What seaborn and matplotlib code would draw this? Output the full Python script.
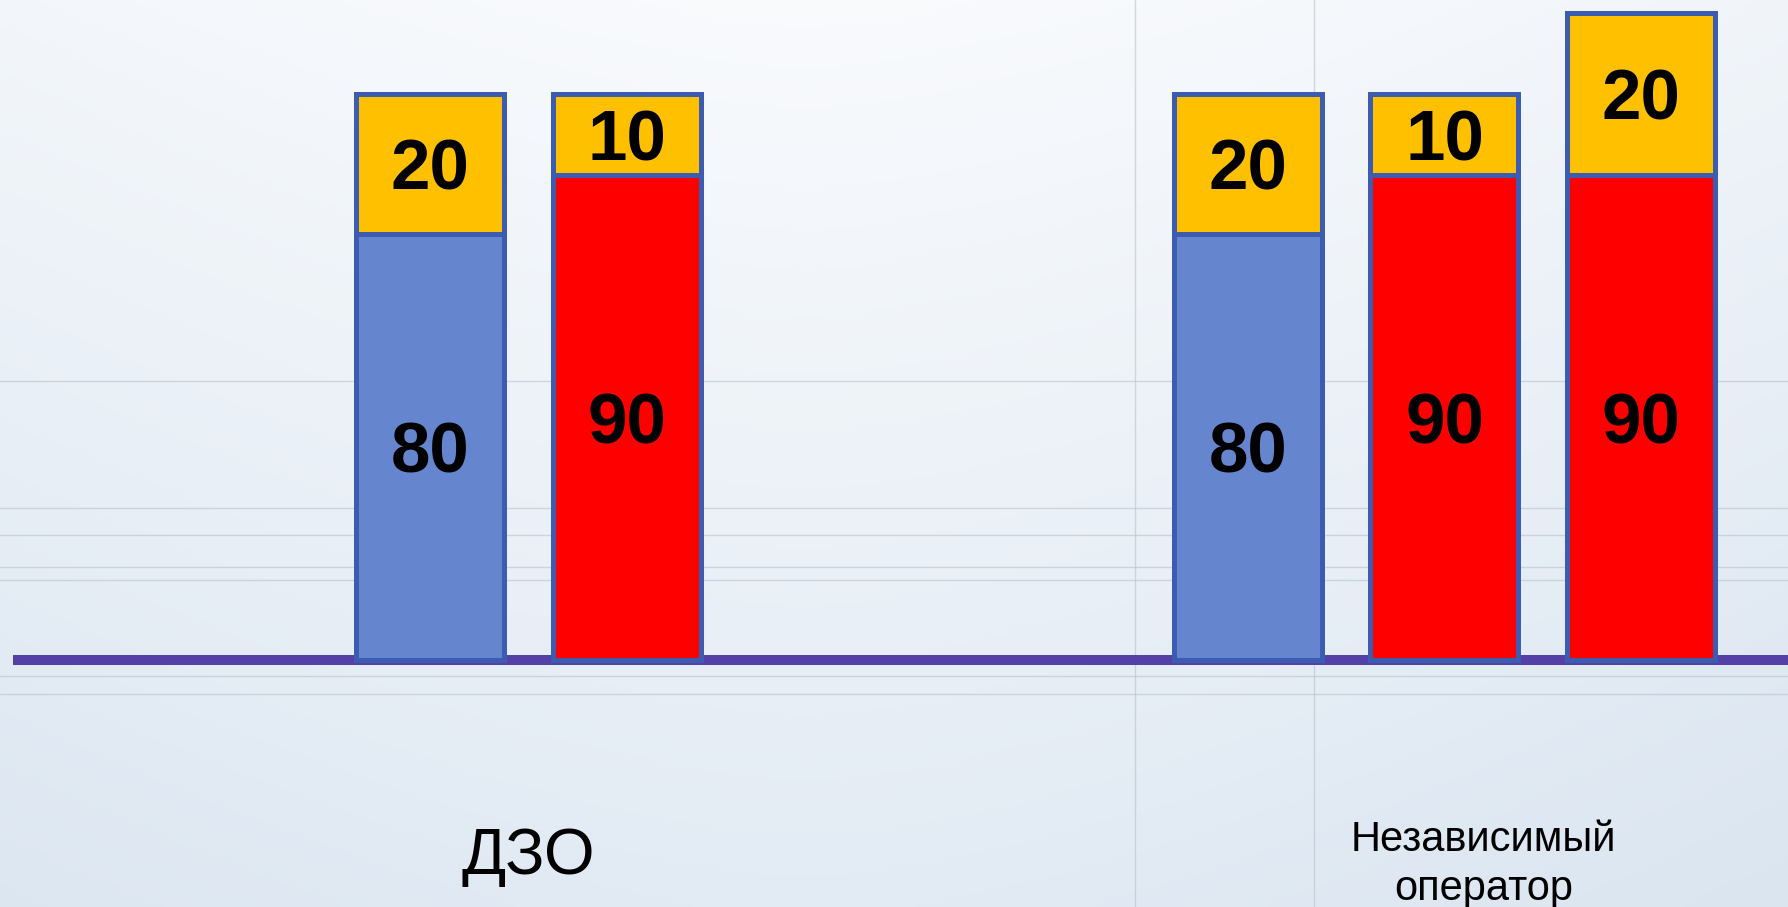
import numpy as np
import pandas as pd
import seaborn as sns
from matplotlib import pyplot as plt

# Data
group_names = ["ДЗО", "Независимый\nоператор"]
bar_group = ["ДЗО", "ДЗО", "Независимый\nоператор", "Независимый\nоператор",
             "Независимый\nоператор"]
bar_kind = ["blue", "red", "blue", "red", "red"]
lower_height = [79, 90, 79, 90, 90]
upper_height = [26, 15, 26, 15, 30]
lower_labels = ["80", "90", "80", "90", "90"]
upper_labels = ["20", "10", "20", "10", "20"]

# Layout (slot positions on the x axis)
bar_pos = [0, 1, 4.16, 5.16, 6.16]
group_label_pos = [0.5, 5.36]
group_label_y = [-36.5, -38.0]
group_label_size = [47, 30]

BLUE = "#6585CF"
RED = "#FF0000"
YELLOW = "#FFC000"
EDGE = "#3B5CB0"
PURPLE = "#5540A8"

sns.set_theme(style="white")
plt.rcParams["font.family"] = ["Liberation Sans", "DejaVu Sans"]

df = pd.DataFrame({
    "pos": bar_pos,
    "group": bar_group,
    "kind": bar_kind,
    "lower": lower_height,
    "upper": upper_height,
})
df["total"] = df["lower"] + df["upper"]

fig = plt.figure(figsize=(17.88, 9.07), dpi=100)

# soft bluish slide background with a few faint guide lines
bg = fig.add_axes([0, 0, 1, 1])
yy, xx = np.mgrid[0:1:200j, 0:1:400j]
t = np.clip(0.5 * yy + 0.45 * np.abs(xx - 0.45) ** 1.5, 0, 1)
light = np.array([0.975, 0.982, 0.992])
dark = np.array([0.80, 0.86, 0.92])
img = light * (1 - t[..., None]) + dark * t[..., None]
bg.imshow(img, aspect="auto", extent=(0, 1, 0, 1), origin="upper")
for hy in [0.58, 0.44, 0.41, 0.375, 0.36, 0.255, 0.235]:
    bg.axhline(hy, color="#B8C2CC", lw=1.0, alpha=0.6)
for vx in [0.635, 0.735]:
    bg.axvline(vx, color="#B8C2CC", lw=1.0, alpha=0.6)
bg.set_xlim(0, 1)
bg.set_ylim(0, 1)
bg.axis("off")

ax = fig.add_axes([0, 0, 1, 1])
ax.patch.set_alpha(0)

bar_kw = dict(native_scale=True, width=0.753, edgecolor=EDGE, linewidth=3.6,
              errorbar=None, zorder=3, ax=ax)
sns.barplot(data=df, x="pos", y="total", color=YELLOW, saturation=1, **bar_kw)
sns.barplot(data=df, x="pos", y="lower", hue="kind",
            palette={"blue": BLUE, "red": RED}, saturation=1, legend=False,
            **bar_kw)

ax.axhline(0, xmin=13 / 1788, xmax=1, color=PURPLE, lw=7.2, zorder=2,
           solid_capstyle="butt")

for p, lo, up, ll, ul in zip(bar_pos, lower_height, upper_height,
                              lower_labels, upper_labels):
    ax.text(p, lo / 2, ll, ha="center", va="center_baseline", fontsize=51,
            fontweight="bold", color="black", zorder=5)
    ax.text(p, lo + up / 2, ul, ha="center", va="center_baseline",
            fontsize=51, fontweight="bold", color="black", zorder=5)

for name, gx, gy, fs in zip(group_names, group_label_pos, group_label_y,
                            group_label_size):
    ax.text(gx, gy, name, ha="center", va="center", fontsize=fs,
            color="black", linespacing=1.3)

ax.set_xlim(-2.19, 6.908)
ax.set_ylim(-45.83, 122.47)
ax.axis("off")

fig.savefig("out.png", dpi=100)
